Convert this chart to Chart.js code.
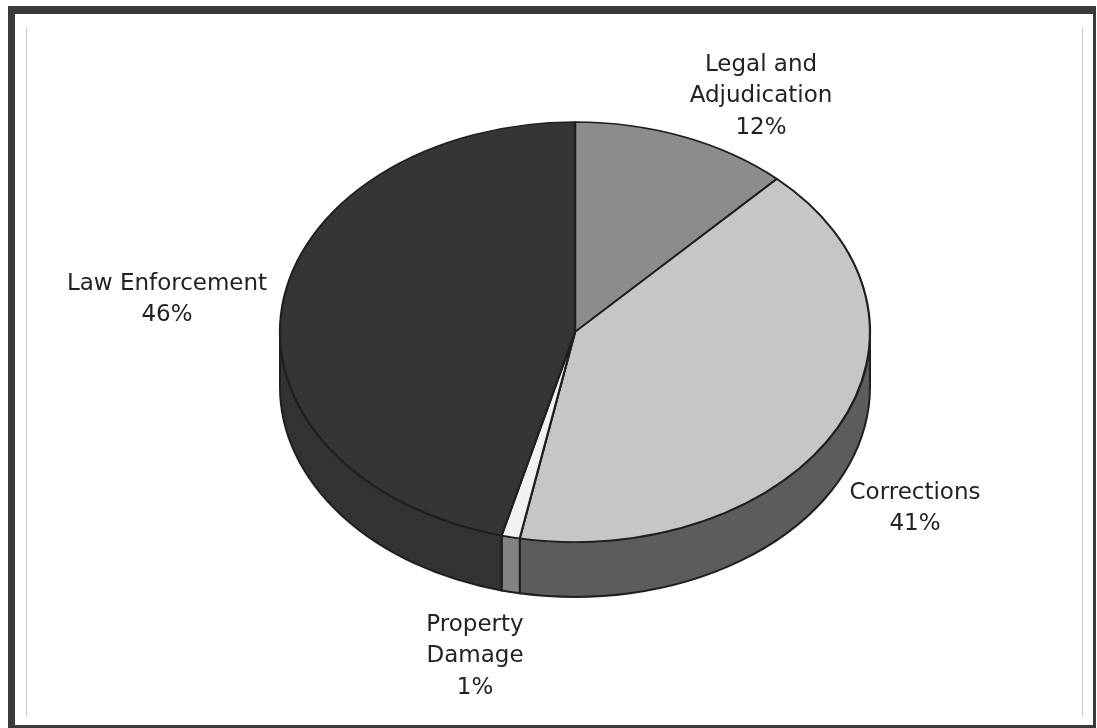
<!DOCTYPE html>
<html>
<head>
<meta charset="utf-8">
<title>Cost distribution</title>
<script src="https://cdn.jsdelivr.net/npm/chart.js@4.4.1/dist/chart.umd.min.js"></script>
<style>
  html, body { margin: 0; padding: 0; background: #ffffff; }
  #chart { display: block; }
</style>
</head>
<body>
<canvas id="chart" width="1097" height="728"></canvas>
<script>
// Slices, clockwise from twelve o'clock
const categories = ['Legal and Adjudication', 'Corrections', 'Property Damage', 'Law Enforcement'];
const shares = [12, 41, 1, 46];
const labelLines = [['Legal and', 'Adjudication'], ['Corrections'], ['Property', 'Damage'], ['Law Enforcement']];

// Styling
const topColors  = ['#8c8c8c', '#c6c6c6', '#f2f2f2', '#353535'];
const sideColors = ['#5a5a5a', '#5c5c5c', '#828282', '#323232'];
const edgeColor  = '#1f1f1f';

// Tilted pie layout (pixels)
const PIE = { cx: 575, cy: 332, rx: 295, ry: 210, depth: 55 };
const LABEL_POS = [[761, 65], [915, 493], [475, 625], [167, 284]];
const LINE_STEP = 31.5;

function frontSegments(s, e) {
  const out = [];
  for (let k = -1; k <= 1; k++) {
    const lo = Math.max(s, 2 * Math.PI * k);
    const hi = Math.min(e, 2 * Math.PI * k + Math.PI);
    if (hi > lo) out.push([lo, hi]);
  }
  return out;
}

const framePlugin = {
  id: 'frame',
  beforeDraw(chart) {
    const ctx = chart.ctx;
    ctx.save();
    ctx.fillStyle = '#ffffff';
    ctx.fillRect(0, 0, chart.width, chart.height);
    ctx.fillStyle = '#3a3a3a';
    ctx.fillRect(8, 6, 7, 722);
    ctx.fillRect(8, 6, 1085, 8);
    ctx.fillRect(1093, 6, 3, 722);
    ctx.fillRect(8, 725, 1088, 3);
    ctx.strokeStyle = '#d0d0d0';
    ctx.lineWidth = 1;
    ctx.beginPath();
    ctx.moveTo(26.5, 27); ctx.lineTo(26.5, 717);
    ctx.moveTo(1082.5, 27); ctx.lineTo(1082.5, 717);
    ctx.stroke();
    ctx.restore();
  }
};

const tiltPlugin = {
  id: 'tilt',
  beforeDatasetsDraw(chart) {
    const ctx = chart.ctx;
    const meta = chart.getDatasetMeta(0);
    const ref = meta.data[0];
    // rim of the front half, drawn beneath the top face
    meta.data.forEach((arc, i) => {
      frontSegments(arc.startAngle, arc.endAngle).forEach(([a, b]) => {
        ctx.beginPath();
        ctx.ellipse(PIE.cx, PIE.cy, PIE.rx, PIE.ry, 0, a, b, false);
        ctx.ellipse(PIE.cx, PIE.cy + PIE.depth, PIE.rx, PIE.ry, 0, b, a, true);
        ctx.closePath();
        ctx.fillStyle = sideColors[i];
        ctx.fill();
        ctx.lineWidth = 2;
        ctx.strokeStyle = edgeColor;
        ctx.stroke();
      });
    });
    // squash the circular pie into the tilted ellipse
    ctx.save();
    ctx.translate(PIE.cx, PIE.cy);
    ctx.scale(PIE.rx / ref.outerRadius, PIE.ry / ref.outerRadius);
    ctx.translate(-ref.x, -ref.y);
  },
  afterDatasetsDraw(chart) {
    const ctx = chart.ctx;
    ctx.restore();
    ctx.save();
    ctx.font = '23px "DejaVu Sans", Verdana, sans-serif';
    ctx.fillStyle = '#222222';
    ctx.textAlign = 'center';
    ctx.textBaseline = 'middle';
    shares.forEach((v, i) => {
      const lines = labelLines[i].concat([v + '%']);
      const [x, y] = LABEL_POS[i];
      lines.forEach((t, j) => ctx.fillText(t, x, y + j * LINE_STEP));
    });
    ctx.restore();
  }
};

new Chart(document.getElementById('chart'), {
  type: 'pie',
  data: {
    labels: categories,
    datasets: [{
      data: shares,
      backgroundColor: topColors,
      borderColor: edgeColor,
      borderWidth: 2.6,
      clip: false
    }]
  },
  options: {
    responsive: false,
    animation: false,
    events: [],
    layout: { padding: 20 },
    plugins: {
      legend: { display: false },
      tooltip: { enabled: false }
    }
  },
  plugins: [framePlugin, tiltPlugin]
});
</script>
</body>
</html>
